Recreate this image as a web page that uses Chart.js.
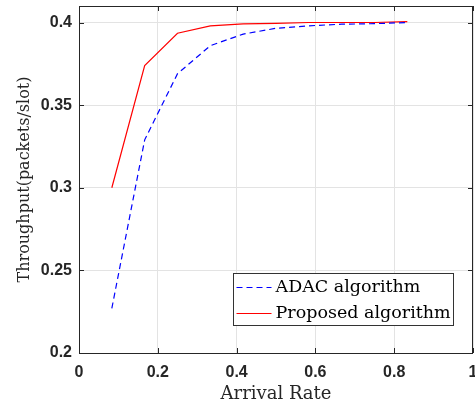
<!DOCTYPE html>
<html lang="en">
<head>
    <meta charset="UTF-8">
    <title>Throughput vs Arrival Rate</title>
    <script src="https://cdn.jsdelivr.net/npm/chart.js"></script>
    <style>
        html, body { margin: 0; padding: 0; background: #ffffff; }
        #wrap { width: 475px; height: 410px; }
    </style>
</head>
<body>
    <div id="wrap"><canvas id="chart" width="475" height="410"></canvas></div>
    <script>
        // values
        const arrivalRate = [0.0833, 0.1667, 0.25, 0.3333, 0.4167, 0.5, 0.5833, 0.6667, 0.75, 0.8333];
        const adacThroughput = [0.227, 0.329, 0.369, 0.386, 0.393, 0.3965, 0.398, 0.399, 0.3993, 0.4];
        const proposedThroughput = [0.300, 0.374, 0.3935, 0.398, 0.3992, 0.3995, 0.4, 0.4, 0.4, 0.4005];

        const xTicks = [0, 0.2, 0.4, 0.6, 0.8, 1];
        const yTicks = [0.2, 0.25, 0.3, 0.35, 0.4];

        const axisColor = '#262626';
        const serif = '"DejaVu Serif", serif';
        const tickFont = { family: '"Liberation Sans", Arial, sans-serif', size: 16, weight: 'bold' };

        function toPoints(xs, ys) {
            return xs.map((x, i) => ({ x: x, y: ys[i] }));
        }

        // box around the axes with inward tick marks (MATLAB style)
        const axesBox = {
            id: 'axesBox',
            afterDraw(chart) {
                const { ctx, chartArea: a, scales } = chart;
                const len = 5;
                ctx.save();
                ctx.strokeStyle = axisColor;
                ctx.lineWidth = 1;
                ctx.beginPath();
                xTicks.forEach(v => {
                    const px = Math.round(scales.x.getPixelForValue(v)) + 0.5;
                    ctx.moveTo(px, a.bottom); ctx.lineTo(px, a.bottom - len);
                    ctx.moveTo(px, a.top); ctx.lineTo(px, a.top + len);
                });
                yTicks.forEach(v => {
                    const py = Math.round(scales.y.getPixelForValue(v)) + 0.5;
                    ctx.moveTo(a.left, py); ctx.lineTo(a.left + len, py);
                    ctx.moveTo(a.right, py); ctx.lineTo(a.right - len, py);
                });
                ctx.stroke();
                ctx.strokeRect(Math.round(a.left) + 0.5, Math.round(a.top) + 0.5,
                    Math.round(a.right - a.left) - 1, Math.round(a.bottom - a.top));
                ctx.restore();
            }
        };

        // boxed legend in the lower right of the axes
        const boxLegend = {
            id: 'boxLegend',
            afterDraw(chart) {
                const { ctx, chartArea: a } = chart;
                const w = 220, h = 52;
                const left = Math.round(a.right - 20 - w) + 0.5;
                const top = Math.round(a.bottom - 28 - h) + 0.5;
                ctx.save();
                ctx.fillStyle = '#ffffff';
                ctx.fillRect(left, top, w, h);
                ctx.strokeStyle = '#333333';
                ctx.lineWidth = 1;
                ctx.strokeRect(left, top, w, h);
                ctx.font = '17.5px ' + serif;
                ctx.textBaseline = 'middle';
                chart.data.datasets.forEach((ds, i) => {
                    const y = top + 14 + i * 26;
                    ctx.beginPath();
                    ctx.setLineDash(ds.borderDash || []);
                    ctx.strokeStyle = ds.borderColor;
                    ctx.lineWidth = ds.borderWidth;
                    ctx.moveTo(left + 3, y);
                    ctx.lineTo(left + 38, y);
                    ctx.stroke();
                    ctx.setLineDash([]);
                    ctx.fillStyle = '#000000';
                    ctx.fillText(ds.label, left + 42, y);
                });
                ctx.restore();
            }
        };

        new Chart(document.getElementById('chart'), {
            type: 'line',
            data: {
                datasets: [
                    {
                        label: 'ADAC algorithm',
                        data: toPoints(arrivalRate, adacThroughput),
                        borderColor: '#0000ff',
                        borderWidth: 1.2,
                        borderDash: [6, 4],
                        pointRadius: 0,
                        fill: false,
                        tension: 0
                    },
                    {
                        label: 'Proposed algorithm',
                        data: toPoints(arrivalRate, proposedThroughput),
                        borderColor: '#ff0000',
                        borderWidth: 1.2,
                        pointRadius: 0,
                        fill: false,
                        tension: 0
                    }
                ]
            },
            options: {
                responsive: false,
                animation: false,
                devicePixelRatio: 1,
                layout: { padding: { top: 6, right: 2, left: 0, bottom: 0 } },
                plugins: {
                    legend: { display: false },
                    tooltip: { enabled: false }
                },
                scales: {
                    x: {
                        type: 'linear',
                        min: 0,
                        max: 1,
                        afterBuildTicks: s => { s.ticks = xTicks.map(v => ({ value: v })); },
                        afterFit: s => { s.height = 57; s.paddingLeft = 0; s.paddingRight = 0; },
                        ticks: {
                            callback: v => String(v),
                            font: tickFont,
                            color: axisColor,
                            padding: 10,
                            maxRotation: 0,
                            autoSkip: false
                        },
                        grid: { color: '#e3e3e3', drawTicks: false },
                        border: { display: false },
                        title: {
                            display: true,
                            text: 'Arrival Rate',
                            font: { family: serif, size: 18 },
                            color: axisColor,
                            padding: { top: 0, bottom: 5 }
                        }
                    },
                    y: {
                        type: 'linear',
                        min: 0.2,
                        max: 0.41,
                        afterBuildTicks: s => { s.ticks = yTicks.map(v => ({ value: v })); },
                        afterFit: s => { s.width = 79; s.paddingTop = 0; s.paddingBottom = 0; },
                        ticks: {
                            callback: v => String(v),
                            font: tickFont,
                            color: axisColor,
                            padding: 7,
                            autoSkip: false
                        },
                        grid: { color: '#e3e3e3', drawTicks: false },
                        border: { display: false },
                        title: {
                            display: true,
                            text: 'Throughput(packets/slot)',
                            font: { family: serif, size: 16 },
                            color: axisColor,
                            padding: { top: 15, bottom: 0 }
                        }
                    }
                }
            },
            plugins: [axesBox, boxLegend]
        });
    </script>
</body>
</html>
